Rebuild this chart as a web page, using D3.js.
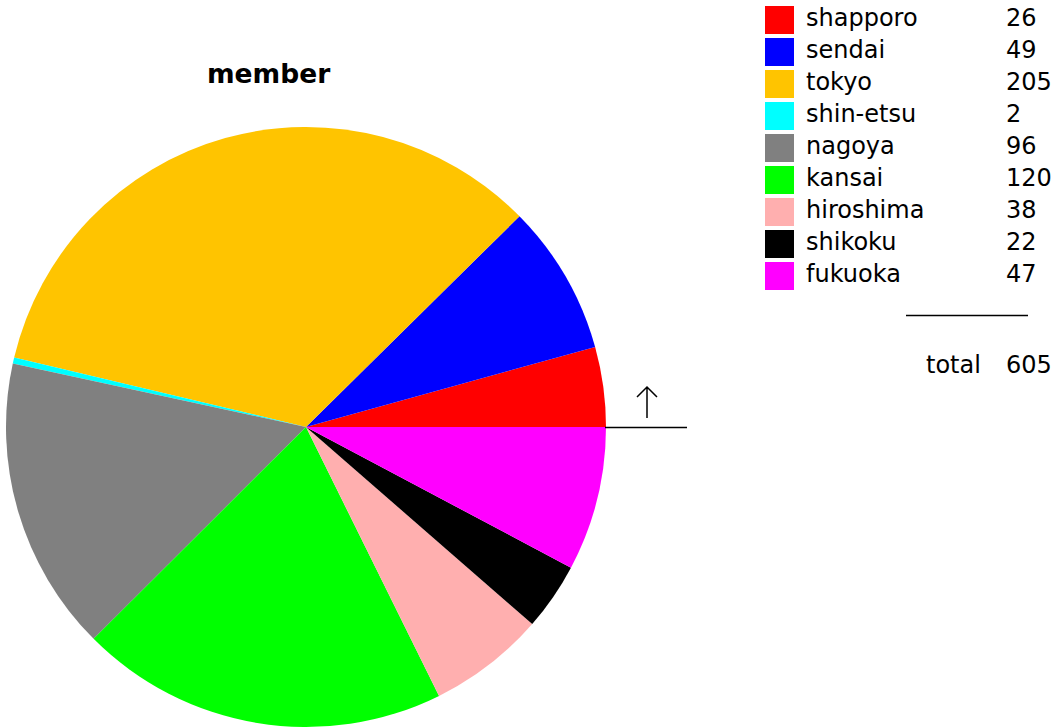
<!DOCTYPE html>
<html>
<head>
<meta charset="utf-8">
<script src="https://cdn.jsdelivr.net/npm/d3@7"></script>
<style>
html,body{margin:0;padding:0;background:#fff;}
svg{display:block;}
</style>
</head>
<body>
<svg id="chart" width="1055" height="728"></svg>
<script>
const categories = ["shapporo","sendai","tokyo","shin-etsu","nagoya","kansai","hiroshima","shikoku","fukuoka"];
const values = [26,49,205,2,96,120,38,22,47];
const colors = ["#ff0000","#0000ff","#ffc400","#00ffff","#808080","#00ff00","#ffafaf","#000000","#ff00ff"];
const title = "member";
const totalLabel = "total";

const svg = d3.select("#chart");
const cx = 306, cy = 427, r = 300;

// pie: starts at 3 o'clock, goes counter-clockwise
const pie = d3.pie().sort(null).value(d => d)
  .startAngle(Math.PI / 2).endAngle(Math.PI / 2 - 2 * Math.PI);
const arc = d3.arc().innerRadius(0).outerRadius(r);

const g = svg.append("g").attr("transform", `translate(${cx},${cy})`);
g.selectAll("path").data(pie(values)).join("path")
  .attr("d", arc)
  .attr("fill", (d, i) => colors[i]);

// reference line and arrow at 0 degrees
svg.append("line").attr("x1", cx + r - 1).attr("x2", 687).attr("y1", cy + 0.5).attr("y2", cy + 0.5)
  .attr("stroke", "#000").attr("stroke-width", 1.5);
svg.append("path")
  .attr("d", "M647,418 L647,387 M637,397 L647,387 L657,397")
  .attr("fill", "none").attr("stroke", "#000").attr("stroke-width", 1.5);

// title
svg.append("text").attr("x", 207).attr("y", 83)
  .attr("font-family", "DejaVu Sans, sans-serif")
  .attr("font-weight", "bold").attr("font-size", 26.5)
  .text(title);

// legend
const rowY = d3.scaleBand().domain(categories).range([6, 6 + 32 * categories.length]);
const font = "DejaVu Sans, sans-serif";
const fs = 24;
const leg = svg.append("g");
const rows = leg.selectAll("g").data(categories).join("g")
  .attr("transform", d => `translate(0,${rowY(d)})`);
rows.append("rect").attr("x", 765).attr("y", 0).attr("width", 29).attr("height", 28)
  .attr("fill", (d, i) => colors[i]);
rows.append("text").attr("x", 806).attr("y", 20)
  .attr("font-family", font).attr("font-size", fs)
  .attr("fill", "#000").text(d => d);
rows.append("text").attr("x", 1006).attr("y", 20)
  .attr("font-family", font).attr("font-size", fs)
  .attr("fill", "#000").text((d, i) => values[i]);

// total
svg.append("line").attr("x1", 906).attr("x2", 1028).attr("y1", 315.5).attr("y2", 315.5)
  .attr("stroke", "#000").attr("stroke-width", 1.5);
svg.append("text").attr("x", 926).attr("y", 373)
  .attr("font-family", font).attr("font-size", fs)
  .attr("fill", "#000").text(totalLabel);
svg.append("text").attr("x", 1006).attr("y", 373)
  .attr("font-family", font).attr("font-size", fs)
  .attr("fill", "#000").text(d3.sum(values));
</script>
</body>
</html>
